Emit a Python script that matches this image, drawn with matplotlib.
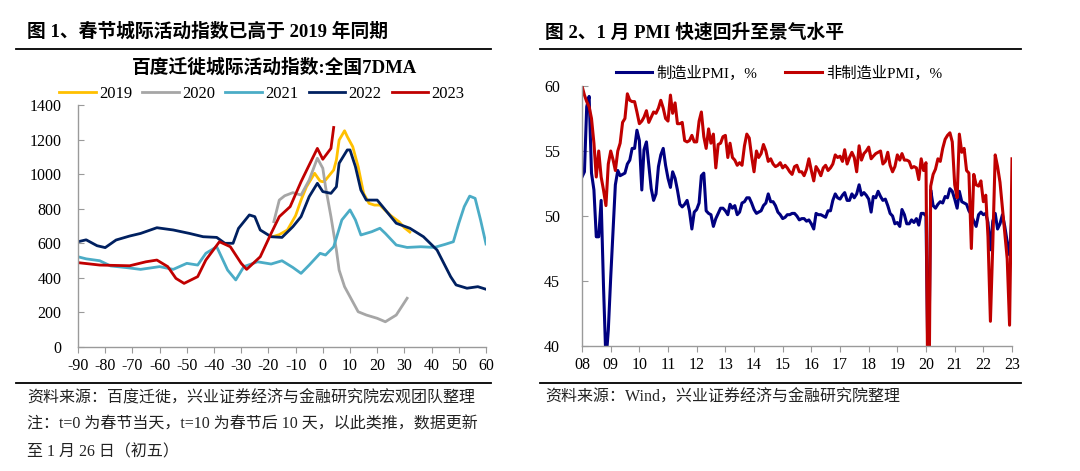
import matplotlib
matplotlib.use("Agg")
import matplotlib.pyplot as plt
import matplotlib.dates as mdates
from matplotlib.lines import Line2D
import pandas as pd

plt.rcParams['font.family'] = ['Liberation Serif', 'Noto Sans CJK SC', 'DejaVu Sans']
plt.rcParams['axes.unicode_minus'] = False

# ---------------- Left chart data: Baidu intercity migration index (7DMA) ----------------
t_2019 = [-18, -16, -13, -10, -8, -6, -3, -1, 0, 1, 4, 5, 6, 8, 9, 11, 13, 15, 17, 19, 21, 23, 25, 28, 30, 32]
v_2019 = [640, 650, 677, 760, 850, 927, 1005, 960, 956, 966, 1024, 1082, 1197, 1251, 1217, 1159, 1043, 889, 831, 821, 821, 790, 760, 725, 690, 665]

t_2020 = [-18, -16, -14, -11, -8, -5, -2, 0, 1, 3, 5, 6, 8, 10, 13, 16, 20, 23, 27, 31]
v_2020 = [725, 850, 875, 893, 879, 966, 1092, 1034, 927, 754, 561, 445, 349, 291, 204, 185, 166, 146, 185, 282]

t_2021 = [-90, -87, -82, -78, -72, -67, -60, -55, -50, -46, -43, -39, -35, -32, -29, -24, -19, -15, -11, -8,
          -5, -1, 1, 4, 7, 10, 12, 14, 18, 21, 23, 27, 31, 36, 41, 45, 48, 50, 52, 54, 56, 58, 60]
v_2021 = [522, 510, 499, 469, 459, 449, 465, 449, 484, 474, 542, 580, 445, 388, 465, 493, 480, 499, 460, 426,
          474, 542, 532, 580, 735, 793, 735, 648, 667, 687, 657, 590, 576, 580, 576, 594, 609, 716, 812, 873, 860, 735, 596]

t_2022 = [-90, -87, -83, -80, -76, -71, -67, -61, -55, -49, -44, -39, -36, -33, -31, -27, -25, -23, -19, -15,
          -11, -8, -5, -2, 0, 3, 5, 6, 9, 10, 12, 14, 16, 20, 22, 27, 32, 37, 42, 47, 49, 53, 57, 60]
v_2022 = [609, 620, 586, 575, 619, 642, 657, 690, 677, 657, 638, 634, 600, 600, 686, 764, 754, 677, 638, 634,
          696, 754, 870, 947, 899, 889, 927, 1063, 1140, 1140, 1043, 908, 850, 850, 812, 716, 687, 638, 561, 407, 359, 340, 349, 334]

t_2023 = [-90, -82, -71, -65, -61, -57, -54, -51, -46, -43, -38, -34, -30, -28, -23, -19, -16, -12, -8, -5, -2, 0, 3, 4]
v_2023 = [488, 474, 470, 493, 503, 465, 397, 368, 407, 503, 609, 580, 484, 449, 522, 657, 754, 812, 956, 1053, 1149, 1086, 1149, 1270]

left_series = [("2019", t_2019, v_2019, "#FFC000"),
               ("2020", t_2020, v_2020, "#A6A6A6"),
               ("2021", t_2021, v_2021, "#4BACC6"),
               ("2022", t_2022, v_2022, "#002060"),
               ("2023", t_2023, v_2023, "#C00000")]
left_xticks = list(range(-90, 61, 10))
left_yticks = list(range(0, 1401, 200))

# ---------------- Right chart data: PMI (monthly, Jan 2008 - Jan 2023) ----------------
mfg_pmi = [
    53.0, 53.4, 58.4, 59.2, 53.3, 52.0, 48.4, 48.4, 51.2, 44.6, 38.8, 41.2,   # 2008
    45.3, 49.0, 52.4, 53.5, 53.1, 53.2, 53.3, 54.0, 54.3, 55.2, 55.2, 56.6,   # 2009
    55.8, 52.0, 55.1, 55.7, 53.9, 52.1, 51.2, 51.7, 53.8, 54.7, 55.2, 53.9,   # 2010
    52.9, 52.2, 53.4, 52.9, 52.0, 50.9, 50.7, 50.9, 51.2, 50.4, 49.0, 50.3,   # 2011
    50.5, 51.0, 53.1, 53.3, 50.4, 50.2, 50.1, 49.2, 49.8, 50.2, 50.6, 50.6,   # 2012
    50.4, 50.1, 50.9, 50.6, 50.8, 50.1, 50.3, 51.0, 51.1, 51.4, 51.4, 51.0,   # 2013
    50.5, 50.2, 50.3, 50.4, 50.8, 51.0, 51.7, 51.1, 51.1, 50.8, 50.3, 50.1,   # 2014
    49.8, 49.9, 50.1, 50.1, 50.2, 50.2, 50.0, 49.7, 49.8, 49.8, 49.6, 49.7,   # 2015
    49.4, 49.0, 50.2, 50.1, 50.1, 50.0, 49.9, 50.4, 50.4, 51.2, 51.7, 51.4,   # 2016
    51.3, 51.6, 51.8, 51.2, 51.2, 51.7, 51.4, 51.7, 52.4, 51.6, 51.8, 51.6,   # 2017
    51.3, 50.3, 51.5, 51.4, 51.9, 51.5, 51.2, 51.3, 50.8, 50.2, 50.0, 49.4,   # 2018
    49.5, 49.2, 50.5, 50.1, 49.4, 49.4, 49.7, 49.5, 49.8, 49.3, 50.2, 50.2,   # 2019
    50.0, 35.7, 52.0, 50.8, 50.6, 50.9, 51.1, 51.0, 51.5, 51.4, 52.1, 51.9,   # 2020
    51.3, 50.6, 51.9, 51.1, 51.0, 50.9, 50.4, 50.1, 49.6, 49.2, 50.1, 50.3,   # 2021
    50.1, 50.2, 49.5, 47.4, 49.6, 50.2, 49.0, 49.4, 50.1, 49.2, 48.0, 47.0,   # 2022
    50.1,                                                                     # 2023
]
nonmfg_pmi = [
    60.0, 59.3, 58.8, 58.4, 57.5, 55.6, 53.0, 55.0, 53.0, 52.0, 50.8, 54.0,   # 2008
    55.0, 54.3, 53.5, 55.0, 55.6, 57.2, 57.5, 59.4, 58.9, 58.8, 58.8, 58.0,   # 2009
    57.1, 57.3, 57.6, 58.1, 57.2, 57.6, 58.0, 57.9, 58.3, 58.9, 58.3, 57.5,   # 2010
    57.3, 59.3, 57.9, 58.7, 57.1, 57.1, 57.2, 55.8, 55.7, 55.8, 56.2, 55.7,   # 2011
    55.7, 57.3, 58.0, 56.1, 55.2, 56.7, 55.6, 56.3, 53.7, 55.5, 55.6, 56.1,   # 2012
    56.2, 54.5, 55.6, 54.5, 54.3, 53.9, 54.1, 53.9, 55.4, 56.3, 56.0, 54.6,   # 2013
    53.4, 55.0, 54.5, 54.8, 55.5, 55.0, 54.2, 54.4, 54.0, 53.8, 53.9, 54.1,   # 2014
    53.7, 53.9, 53.7, 53.4, 53.2, 53.8, 53.9, 53.4, 53.4, 53.1, 53.6, 54.4,   # 2015
    53.5, 52.7, 53.8, 53.5, 53.1, 53.7, 53.9, 53.5, 53.7, 54.0, 54.7, 54.5,   # 2016
    54.6, 54.2, 55.1, 54.0, 54.5, 54.9, 54.5, 53.4, 55.4, 54.3, 54.8, 55.0,   # 2017
    55.3, 54.4, 54.6, 54.8, 54.9, 55.0, 54.0, 54.2, 54.9, 53.9, 53.4, 53.8,   # 2018
    54.7, 54.3, 54.8, 54.3, 54.3, 54.2, 53.7, 53.8, 53.7, 52.8, 54.4, 53.5,   # 2019
    54.1, 29.6, 52.3, 53.2, 53.6, 54.4, 54.2, 55.2, 55.9, 56.2, 56.4, 55.7,   # 2020
    52.4, 51.4, 56.3, 54.9, 55.2, 53.5, 53.3, 47.5, 53.2, 52.4, 52.3, 52.7,   # 2021
    51.1, 51.6, 48.4, 41.9, 47.8, 54.7, 53.8, 52.6, 50.6, 48.7, 46.7, 41.6,   # 2022
    54.4,                                                                     # 2023
]
months = pd.date_range("2008-01-01", periods=len(mfg_pmi), freq="MS")
right_series = [("制造业PMI，%", mfg_pmi, "#000080"),
                ("非制造业PMI，%", nonmfg_pmi, "#C00000")]
right_yticks = [40, 45, 50, 55, 60]

# ---------------- Figure ----------------
W, H = 1080, 471
fig = plt.figure(figsize=(W / 100, H / 100), dpi=100)
fig.patch.set_facecolor("white")


def fx(px):
    return px / W


def fy(py):
    return 1 - py / H


axis_gray = "#9A9A9A"


def style_axis(ax):
    for s in ["top", "right"]:
        ax.spines[s].set_visible(False)
    for s in ["left", "bottom"]:
        ax.spines[s].set_color(axis_gray)
        ax.spines[s].set_linewidth(1.0)
    ax.tick_params(axis="x", direction="out", length=4, color=axis_gray, labelsize=11.5, pad=4)
    ax.tick_params(axis="y", direction="in", length=4, color=axis_gray, labelsize=11.5)


# ----- Left panel -----
ax1 = fig.add_axes([fx(78), fy(347), fx(486 - 78), (347 - 105) / H])
handles = []
for name, t, v, c in left_series:
    ln, = ax1.plot(t, v, color=c, lw=2.0, label=name, solid_joinstyle="round")
    handles.append(ln)
ax1.set_xlim(-90, 60)
ax1.set_ylim(0, 1400)
ax1.set_xticks(left_xticks)
ax1.set_yticks(left_yticks)
style_axis(ax1)
ax1.tick_params(axis="y", pad=12)

fig.legend(handles=handles, labels=[s[0] for s in left_series], loc="center",
           bbox_to_anchor=(fx(262), fy(94)), ncol=5, frameon=False,
           handlelength=2.2, handletextpad=0.2, columnspacing=0.6,
           prop={"family": ["Liberation Serif"], "size": 12})

fig.text(fx(27), fy(32), "图 1、春节城际活动指数已高于 2019 年同期", ha="left", va="center",
         fontsize=13.5, fontweight="bold")
fig.text(fx(275), fy(68), "百度迁徙城际活动指数:全国7DMA", ha="center", va="center",
         fontsize=13.5, fontweight="bold")

# ----- Right panel -----
ax2 = fig.add_axes([fx(582), fy(346), fx(1012 - 582), (346 - 86) / H])
handles2 = []
for name, vals, c in right_series:
    ln, = ax2.plot(months, vals, color=c, lw=2.2, label=name)
    handles2.append(ln)
ax2.set_ylim(40, 60)
ax2.set_yticks(right_yticks)
ax2.set_xlim(months[0], months[-1])
ax2.xaxis.set_major_locator(mdates.YearLocator(1))
ax2.xaxis.set_major_formatter(mdates.DateFormatter("%y"))
style_axis(ax2)
ax2.tick_params(axis="y", pad=16)

fig.legend(handles=handles2, labels=[s[0] for s in right_series], loc="center",
           bbox_to_anchor=(fx(779), fy(73)), ncol=2, frameon=False,
           handlelength=2.4, handletextpad=0.3, columnspacing=1.8,
           prop={"family": ["Liberation Serif", "Noto Sans CJK SC"], "size": 11})

fig.text(fx(545), fy(32), "图 2、1 月 PMI 快速回升至景气水平", ha="left", va="center",
         fontsize=13.5, fontweight="bold")

# ----- Separator rules -----
for x0, x1 in [(16, 491), (540, 1021)]:
    fig.add_artist(Line2D([fx(x0), fx(x1)], [fy(49), fy(49)], color="black", lw=1.3))
    fig.add_artist(Line2D([fx(x0), fx(x1)], [fy(383), fy(383)], color="black", lw=1.3))

# ----- Notes -----
note_kw = dict(ha="left", va="center", fontsize=11.5, color="#222222")
fig.text(fx(27), fy(398), "资料来源：百度迁徙，兴业证券经济与金融研究院宏观团队整理", **note_kw)
fig.text(fx(27), fy(425), "注：t=0 为春节当天，t=10 为春节后 10 天，以此类推，数据更新", **note_kw)
fig.text(fx(27), fy(452), "至 1 月 26 日（初五）", **note_kw)
fig.text(fx(545), fy(398), "资料来源：Wind，兴业证券经济与金融研究院整理", **note_kw)

fig.savefig("out.png", dpi=100, facecolor="white")
